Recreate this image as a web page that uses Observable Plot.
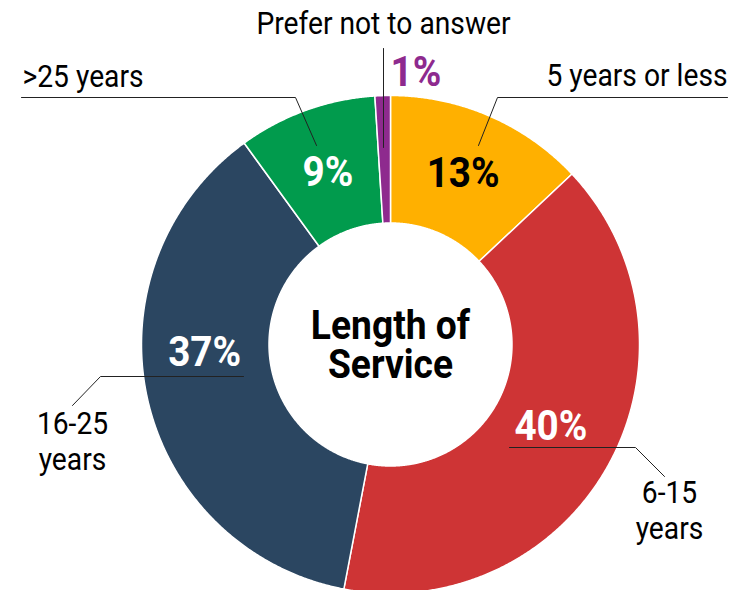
<!DOCTYPE html>
<html><head><meta charset="utf-8">
<script src="https://cdn.jsdelivr.net/npm/d3@7"></script>
<script src="https://cdn.jsdelivr.net/npm/@observablehq/plot@0.6"></script>
<style>body{margin:0;background:#fff}#chart{width:745px;height:590px}</style>
</head><body><div id="chart"></div>
<script>
// ---- data ----
const categories = ["5 years or less", "6-15 years", "16-25 years", ">25 years", "Prefer not to answer"];
const values = [13, 40, 37, 9, 1];
const valueLabels = ["13%", "40%", "37%", "9%", "1%"];
const nameLabels = ["5 years or less", "6-15\nyears", "16-25\nyears", ">25 years", "Prefer not to answer"];
const colors = ["#FFB000", "#CE3435", "#2B4661", "#019B4D", "#8E2A8E"];
const centerTitle = "Length of\nService";

// ---- layout ----
const W = 745, H = 590, CX = 390, CY = 344, R_OUT = 249, R_IN = 121.5;
const FONT = "Roboto, 'Liberation Sans', sans-serif";
// value label placement (degrees clockwise from 12 o'clock, radius)
const valuePos = [{a: 23, r: 186}, {a: 117, r: 180}, {a: 267.5, r: 186}, {a: 340, r: 183}, {a: 0.0, r: 272}];
const valueColor = ["#000", "#fff", "#fff", "#fff", "#8E2A8E"];
const valueAnchor = ["middle", "middle", "middle", "middle", "start"];
// leader lines, in px offsets from the centre
const leaders = [
  [[88, -199], [107, -247], [337, -247]],
  [[119, 103], [245, 103], [274, 132]],
  [[-147, 32], [-290, 32], [-318, 61]],
  [[-74, -199], [-95, -247], [-369, -247]],
  [[-7, -197], [-7, -296]]
];
const namePos = [
  {x: 337, y: -259, anchor: "end"},
  {x: 279, y: 194, anchor: "middle"},
  {x: -318, y: 125, anchor: "middle"},
  {x: -368, y: -258, anchor: "start"},
  {x: -7, y: -311, anchor: "middle"}
];

// ---- build geometry from the values ----
const pie = d3.pie().sort(null).value(d => d)(values);
const pt = (a, r) => [r * Math.sin(a), -r * Math.cos(a)];
const slicePts = [];
pie.forEach((p, i) => {
  const n = Math.max(2, Math.ceil((p.endAngle - p.startAngle) / 0.005));
  for (let k = 0; k <= n; k++) {
    const a = p.startAngle + (p.endAngle - p.startAngle) * k / n;
    const [x, y] = pt(a, R_OUT);
    slicePts.push({cat: categories[i], x, y});
  }
  for (let k = n; k >= 0; k--) {
    const a = p.startAngle + (p.endAngle - p.startAngle) * k / n;
    const [x, y] = pt(a, R_IN);
    slicePts.push({cat: categories[i], x, y});
  }
});

const valueData = values.map((v, i) => {
  const a = valuePos[i].a * Math.PI / 180;
  const [x, y] = pt(a, valuePos[i].r);
  return {text: valueLabels[i], x, y, color: valueColor[i], anchor: valueAnchor[i]};
});
const leaderPts = leaders.flatMap((L, i) => L.map(([x, y]) => ({id: i, x, y})));
const nameData = nameLabels.map((t, i) => ({text: t, ...namePos[i]}));

const chart = Plot.plot({
  width: W, height: H,
  margin: 0,
  x: {domain: [-CX, W - CX], axis: null},
  y: {domain: [-CY, H - CY], axis: null, reverse: true},
  color: {domain: categories, range: colors},
  style: {fontFamily: FONT, background: "#fff"},
  marks: [
    Plot.line(slicePts, {x: "x", y: "y", z: "cat", fill: "cat", stroke: "#fff", strokeWidth: 1.5, curve: "linear-closed"}),
    Plot.line(leaderPts, {x: "x", y: "y", z: "id", stroke: "#222", strokeWidth: 1}),
    ...["start", "middle", "end"].map(anchor =>
      Plot.text(valueData.filter(d => d.anchor === anchor), {
        x: "x", y: "y", text: "text", fill: d => d.color, textAnchor: anchor,
        fontSize: 43, fontWeight: "bold", lineAnchor: "middle"
      })),
    ...["start", "middle", "end"].map(anchor =>
      Plot.text(nameData.filter(d => d.anchor === anchor), {
        x: "x", y: "y", text: "text", fill: "#000", textAnchor: anchor,
        fontSize: 31, lineAnchor: "bottom", lineHeight: 1.16
      })),
    Plot.text([centerTitle], {x: 0, y: 33, text: d => d, fontSize: 40, fontWeight: "bold", fill: "#000", lineAnchor: "bottom", lineHeight: 0.96})
  ]
});
document.getElementById("chart").append(chart);

// condense the glyphs horizontally to mimic the reference's condensed face
chart.querySelectorAll("text").forEach(t => {
  const cs = getComputedStyle(t);
  const fs = parseFloat(cs.fontSize), fw = parseInt(cs.fontWeight) || 400;
  const k = fs >= 42 ? 0.9 : fw >= 600 ? 0.93 : 0.91;
  const spans = t.querySelectorAll("tspan");
  (spans.length ? [...spans] : [t]).forEach(e => {
    const L = e.getComputedTextLength();
    e.setAttribute("textLength", (L * k).toFixed(1));
    e.setAttribute("lengthAdjust", "spacingAndGlyphs");
  });
});
</script>
</body></html>
